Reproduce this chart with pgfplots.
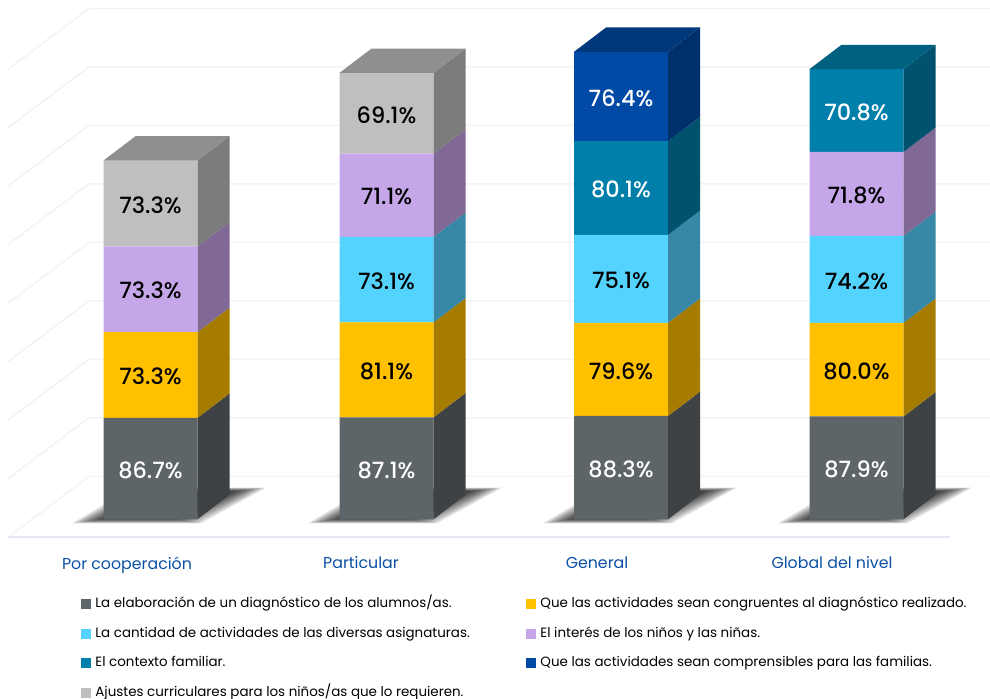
\documentclass[border=0pt]{standalone}
\usepackage{pgfplots}
\pgfplotsset{compat=1.18}
\usepackage{fontspec}
\setmainfont{Poppins}
\newfontfamily\lblfont{Poppins Medium}[Numbers=Monospaced]

\definecolor{cgray}{HTML}{5E6568}\definecolor{cgrayS}{HTML}{3E4245}
\definecolor{cyel}{HTML}{FFC000}\definecolor{cyelS}{HTML}{A67C00}
\definecolor{ccya}{HTML}{55D3FF}\definecolor{ccyaS}{HTML}{3688A6}
\definecolor{cpur}{HTML}{C5A7E9}\definecolor{cpurS}{HTML}{806A95}
\definecolor{ctea}{HTML}{007FAB}\definecolor{cteaS}{HTML}{00526F}\definecolor{cteaT}{HTML}{00607F}
\definecolor{cblu}{HTML}{004AA5}\definecolor{cbluS}{HTML}{00306C}\definecolor{cbluT}{HTML}{00387C}
\definecolor{cgry}{HTML}{BFBFBF}\definecolor{cgryS}{HTML}{7C7C7C}\definecolor{cgryT}{HTML}{8F8F8F}
\definecolor{gridc}{HTML}{F3F3F4}\definecolor{floorc}{HTML}{ECE6F4}
\definecolor{catc}{HTML}{0B50A5}

% one pixel of the reference = 0.5pt; y data in % with 1.17 px per unit
\pgfplotsset{
  base/.style={
    anchor=south west, at={(0,0)}, scale only axis,
    x=0.5pt, y=0.585pt,
    xmin=0, xmax=990, ymin=-154.3, ymax=443.2,
    clip=false,
  },
  seg/.style={fill=#1, draw=none,
    legend image code/.code={\fill[##1] (0pt,-2.5pt) rectangle (5pt,2.5pt);}},
  poly/.style={fill=#1, draw=none, forget plot},
  grid line/.style={draw=gridc, line width=0.75pt, forget plot},
}

% side face: front right x, lower and upper stack value, colour
\newcommand{\sideface}[4]{%
  \pgfmathsetmacro{\xb}{#1+32}\pgfmathsetmacro{\ya}{#2+20.8}\pgfmathsetmacro{\yb}{#3+20.8}%
  \addplot[poly=#4] coordinates {(#1,#2) (\xb,\ya) (\xb,\yb) (#1,#3)} -- cycle;}
% top face: front left x, front right x, stack value, colour
\newcommand{\topface}[4]{%
  \pgfmathsetmacro{\xa}{#1+32}\pgfmathsetmacro{\xb}{#2+32}\pgfmathsetmacro{\ya}{#3+20.8}%
  \addplot[poly=#4] coordinates {(#1,#3) (\xa,\ya) (\xb,\ya) (#2,#3)} -- cycle;}
% soft shadow: front left x, growth in px
\newcommand{\shadowlayer}[2]{%
  \pgfmathsetmacro{\xa}{#1-28-#2}\pgfmathsetmacro{\xb}{#1+95+#2}%
  \pgfmathsetmacro{\xc}{#1+160+#2}\pgfmathsetmacro{\xd}{#1+32-#2}%
  \pgfmathsetmacro{\ya}{-3.8-#2/8}\pgfmathsetmacro{\yb}{26+#2/10}%
  \addplot[fill=black, fill opacity=0.11, draw=none, forget plot]
    coordinates {(\xa,\ya) (\xb,\ya) (\xc,\yb) (\xd,\yb)} -- cycle;}
\newcommand{\shadow}[1]{%
  \shadowlayer{#1}{3}\shadowlayer{#1}{0}\shadowlayer{#1}{-3}\shadowlayer{#1}{-6}%
  \shadowlayer{#1}{-9}\shadowlayer{#1}{-12}\shadowlayer{#1}{-15}\shadowlayer{#1}{-18}%
  \shadowlayer{#1}{-21}\shadowlayer{#1}{-24}\shadowlayer{#1}{-27}\shadowlayer{#1}{-30}}

\begin{document}
\begin{tikzpicture}
\useasboundingbox (0,0) rectangle (495pt,349.5pt);

% back wall, floor and shadows
\begin{axis}[base, hide axis]
  \addplot[grid line] coordinates {(8,384) (89,436) (990,436)};
  \addplot[grid line] coordinates {(8,334) (89,386) (990,386)};
  \addplot[grid line] coordinates {(8,284) (89,336) (990,336)};
  \addplot[grid line] coordinates {(8,234) (89,286) (990,286)};
  \addplot[grid line] coordinates {(8,184) (89,236) (990,236)};
  \addplot[grid line] coordinates {(8,134) (89,186) (990,186)};
  \addplot[grid line] coordinates {(8,84) (89,136) (990,136)};
  \addplot[grid line] coordinates {(8,34) (89,86) (990,86)};
  \addplot[grid line] coordinates {(8,-16) (89,36) (990,36)};
  \addplot[draw=floorc, line width=0.75pt, forget plot] coordinates {(8,-16) (950,-16)};
  \shadow{103}\shadow{339}\shadow{574}\shadow{809}
\end{axis}

% front faces
\begin{axis}[base, at={(0,-0.4pt)}, ybar stacked, bar width=94,
  axis line style={draw=none}, major tick length=0pt,
  ytick=\empty,
  xtick={127,361,597,832},
  xticklabels={Por cooperación,Particular,General,Global del nivel},
  xticklabel style={font=\fontsize{7.9}{9}\selectfont, text=catc, yshift=75pt},
  legend columns=2,
  legend cell align=left,
  legend style={at={(axis cs:81,-66.7)}, anchor=north west, draw=none, fill=none,
    font=\fontsize{6.72}{8}\selectfont, inner sep=0pt,
    /tikz/column 2/.style={column sep=26.3pt},
    /tikz/row sep=8.25pt,
    /tikz/nodes={inner xsep=2pt, inner ysep=0pt, text height=5pt, text depth=1.5pt}},
]
  \addplot[seg=cgray] coordinates {(150.5,86.7) (386.5,87.1) (621,88.3) (856.5,87.9)};
  \addplot[seg=cyel] coordinates {(150.5,73.3) (386.5,81.1) (621,79.6) (856.5,80.0)};
  \addplot[seg=ccya] coordinates {(150.5,0) (386.5,73.1) (621,75.1) (856.5,74.2)};
  \addplot[seg=cpur] coordinates {(150.5,73.3) (386.5,71.1) (621,0) (856.5,71.8)};
  \addplot[seg=ctea] coordinates {(150.5,0) (386.5,0) (621,80.1) (856.5,70.8)};
  \addplot[seg=cblu] coordinates {(150.5,0) (386.5,0) (621,76.4) (856.5,0)};
  \addplot[seg=cgry] coordinates {(150.5,73.3) (386.5,69.1) (621,0) (856.5,0)};
  \legend{La elaboración de un diagnóstico de los alumnos/as.,
    Que las actividades sean congruentes al diagnóstico realizado.,
    La cantidad de actividades de las diversas asignaturas.,
    El interés de los niños y las niñas.,
    El contexto familiar.,
    Que las actividades sean comprensibles para las familias.,
    Ajustes curriculares para los niños/as que lo requieren.}
\end{axis}

% side and top faces, value labels
\begin{axis}[base, at={(0,-0.4pt)}, hide axis]
  \sideface{197.5}{0}{86.7}{cgrayS}
  \sideface{197.5}{86.7}{160}{cyelS}
  \sideface{197.5}{160}{233.3}{cpurS}
  \sideface{197.5}{233.3}{306.6}{cgryS}
  \topface{103.5}{197.5}{306.6}{cgryT}

  \sideface{433.5}{0}{87.1}{cgrayS}
  \sideface{433.5}{87.1}{168.2}{cyelS}
  \sideface{433.5}{168.2}{241.3}{ccyaS}
  \sideface{433.5}{241.3}{312.4}{cpurS}
  \sideface{433.5}{312.4}{381.5}{cgryS}
  \topface{339.5}{433.5}{381.5}{cgryT}

  \sideface{668}{0}{88.3}{cgrayS}
  \sideface{668}{88.3}{167.9}{cyelS}
  \sideface{668}{167.9}{243}{ccyaS}
  \sideface{668}{243}{323.1}{cteaS}
  \sideface{668}{323.1}{399.5}{cbluS}
  \topface{574}{668}{399.5}{cbluT}

  \sideface{903.5}{0}{87.9}{cgrayS}
  \sideface{903.5}{87.9}{167.9}{cyelS}
  \sideface{903.5}{167.9}{242.1}{ccyaS}
  \sideface{903.5}{242.1}{313.9}{cpurS}
  \sideface{903.5}{313.9}{384.7}{cteaS}
  \topface{809.5}{903.5}{384.7}{cteaT}

  \addplot[draw=none, mark=none, forget plot, point meta=explicit symbolic,
    nodes near coords, nodes near coords align={center},
    every node near coord/.append style={font=\lblfont\fontsize{11.2}{13}\selectfont, text=white, anchor=center, yshift=-0.8pt}]
    coordinates {
      (150.5,43.35)[86.7\%] (386.5,43.55)[87.1\%] (621,44.15)[88.3\%] (856.5,43.95)[87.9\%]
      (621,283.05)[80.1\%] (621,361.3)[76.4\%] (856.5,349.3)[70.8\%]
    };
  \addplot[draw=none, mark=none, forget plot, point meta=explicit symbolic,
    nodes near coords, nodes near coords align={center},
    every node near coord/.append style={font=\lblfont\fontsize{11.2}{13}\selectfont, text=black, anchor=center, yshift=-0.8pt}]
    coordinates {
      (150.5,123.35)[73.3\%] (150.5,196.65)[73.3\%] (150.5,269.95)[73.3\%]
      (386.5,127.65)[81.1\%] (386.5,204.75)[73.1\%] (386.5,276.85)[71.1\%] (386.5,346.95)[69.1\%]
      (621,128.1)[79.6\%] (621,205.45)[75.1\%]
      (856.5,127.9)[80.0\%] (856.5,205)[74.2\%] (856.5,278)[71.8\%]
    };
\end{axis}
\end{tikzpicture}
\end{document}
